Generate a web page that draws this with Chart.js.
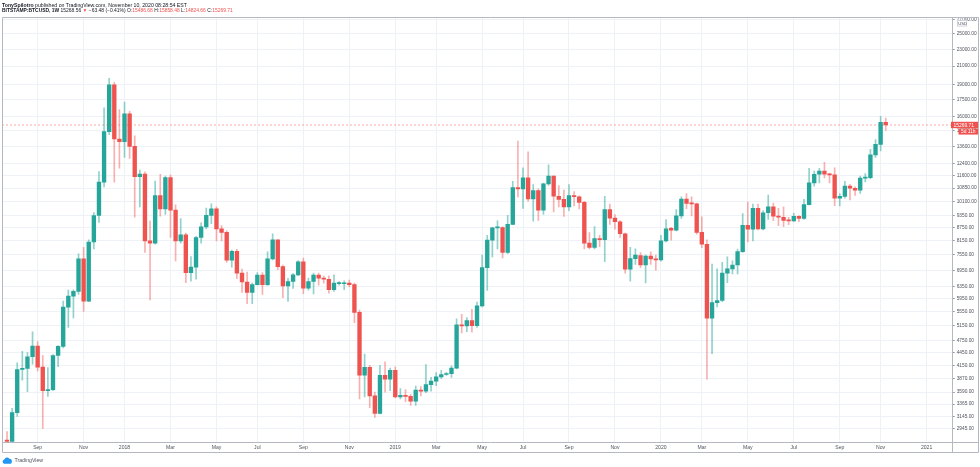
<!DOCTYPE html>
<html><head><meta charset="utf-8">
<script src="https://cdn.jsdelivr.net/npm/chart.js@4/dist/chart.umd.min.js"></script>
<style>
html,body{margin:0;padding:0;background:#fff;}
#wrap{position:relative;width:980px;height:467px;overflow:hidden;font-family:"Liberation Sans",Arial,sans-serif;}
#c{position:absolute;left:0;top:0;}
.hdr{position:absolute;left:2px;font-size:5.2px;line-height:6px;color:#131722;white-space:nowrap;}
.r{color:#ef5350;}
#foot{position:absolute;left:2px;top:456px;height:8px;font-size:5.2px;line-height:8px;color:#50535e;display:flex;align-items:center;}
#foot svg{margin-right:1.5px;}
</style></head><body>
<div id="wrap">
<canvas id="c" width="980" height="467"></canvas>
<div class="hdr" style="top:1.6px"><b>TonySpilotro</b> published on TradingView.com, November 10, 2020 08:28:54 EST</div>
<div class="hdr" style="top:8px;font-size:4.95px"><b>BITSTAMP:BTCUSD, 1W</b> 15268.56 <span class="r">▼</span> −63.48 (−0.41%) O:<span class="r">15486.68</span> H:<span class="r">15858.48</span> L:<span class="r">14824.66</span> C:<span class="r">15269.71</span></div>
<div id="foot"><svg width="11" height="7" viewBox="0 0 22 14"><path d="M5 13.5a4.2 4.2 0 0 1-.4-8.3A5.6 5.6 0 0 1 14.6 3.6a4.6 4.6 0 0 1 4.8 6.6A3 3 0 0 1 17.5 13.5Z" fill="#2196f3"/></svg><span>TradingView</span></div>
</div>
<script>
// ---- categories: weekly bar start dates ----
const weeks = [
'2017-07-24','2017-07-31','2017-08-07','2017-08-14','2017-08-21','2017-08-28','2017-09-04','2017-09-11','2017-09-18','2017-09-25','2017-10-02','2017-10-09','2017-10-16','2017-10-23','2017-10-30','2017-11-06','2017-11-13','2017-11-20','2017-11-27','2017-12-04','2017-12-11','2017-12-18','2017-12-25',
'2018-01-01','2018-01-08','2018-01-15','2018-01-22','2018-01-29','2018-02-05','2018-02-12','2018-02-19','2018-02-26','2018-03-05','2018-03-12','2018-03-19','2018-03-26','2018-04-02','2018-04-09','2018-04-16','2018-04-23','2018-04-30','2018-05-07','2018-05-14','2018-05-21','2018-05-28','2018-06-04','2018-06-11','2018-06-18','2018-06-25','2018-07-02','2018-07-09','2018-07-16','2018-07-23','2018-07-30','2018-08-06','2018-08-13','2018-08-20','2018-08-27','2018-09-03','2018-09-10','2018-09-17','2018-09-24','2018-10-01','2018-10-08','2018-10-15','2018-10-22','2018-10-29','2018-11-05','2018-11-12','2018-11-19','2018-11-26','2018-12-03','2018-12-10','2018-12-17','2018-12-24','2018-12-31',
'2019-01-07','2019-01-14','2019-01-21','2019-01-28','2019-02-04','2019-02-11','2019-02-18','2019-02-25','2019-03-04','2019-03-11','2019-03-18','2019-03-25','2019-04-01','2019-04-08','2019-04-15','2019-04-22','2019-04-29','2019-05-06','2019-05-13','2019-05-20','2019-05-27','2019-06-03','2019-06-10','2019-06-17','2019-06-24','2019-07-01','2019-07-08','2019-07-15','2019-07-22','2019-07-29','2019-08-05','2019-08-12','2019-08-19','2019-08-26','2019-09-02','2019-09-09','2019-09-16','2019-09-23','2019-09-30','2019-10-07','2019-10-14','2019-10-21','2019-10-28','2019-11-04','2019-11-11','2019-11-18','2019-11-25','2019-12-02','2019-12-09','2019-12-16','2019-12-23','2019-12-30',
'2020-01-06','2020-01-13','2020-01-20','2020-01-27','2020-02-03','2020-02-10','2020-02-17','2020-02-24','2020-03-02','2020-03-09','2020-03-16','2020-03-23','2020-03-30','2020-04-06','2020-04-13','2020-04-20','2020-04-27','2020-05-04','2020-05-11','2020-05-18','2020-05-25','2020-06-01','2020-06-08','2020-06-15','2020-06-22','2020-06-29','2020-07-06','2020-07-13','2020-07-20','2020-07-27','2020-08-03','2020-08-10','2020-08-17','2020-08-24','2020-08-31','2020-09-07','2020-09-14','2020-09-21','2020-09-28','2020-10-05','2020-10-12','2020-10-19','2020-10-26','2020-11-02','2020-11-09'];

// ---- series: open / high / low / close (USD) ----
const opens = [
2770,2745,3214,4060,4085,4350,4610,4110,3620,3640,4380,4600,5690,6040,6200,7390,5880,8100,9350,11200,14730,18970,14150,
13950,16220,13600,11540,11700,8150,8050,10420,9690,11480,9630,8150,8420,6860,7070,8300,8790,9360,9700,8700,8530,7340,7700,6840,6520,6160,6430,6770,6430,7390,8190,7090,6380,6540,6780,7270,6310,6540,6770,6660,6620,6260,6465,6460,6480,6430,5530,3935,4105,3520,3200,3935,3850,
4040,3500,3530,3510,3420,3630,3610,3740,3810,3900,3950,3970,4090,5170,5140,5290,5150,5730,7050,8180,8740,8760,7660,8910,10870,10800,11470,10230,10700,9620,11100,11570,10380,10200,9800,10420,10350,10040,8050,7870,8250,8200,9650,9220,9040,8470,6990,7400,7530,7150,7500,7390,
7350,8150,8720,8640,9330,10220,9980,9960,8530,8000,5360,5830,5900,6840,7000,7150,7690,8870,8680,9720,8700,9490,9800,9320,9260,9110,9080,9310,9200,9920,11160,11690,11900,11700,11650,10270,10370,10970,10840,10730,11450,11480,12990,13750,15486.68];
const highs = [
2900,3290,4210,4480,4450,4980,4720,4380,4100,4400,4620,5880,6240,6250,7600,7870,8200,9500,11870,16750,19664,19250,16600,
17280,16450,14400,11960,11850,9070,11260,11690,11570,11650,9900,9190,8500,7480,8350,8990,9730,9960,9800,8850,8600,7750,7780,6990,6880,6480,6860,6860,7680,8470,8200,7150,6650,6830,7320,7420,6660,6840,6840,6730,6740,6780,6540,6560,6590,6480,5600,4410,4150,3590,4150,4230,4090,
4120,3660,3640,3550,3710,3700,4170,3890,3990,4040,4000,4140,5340,5470,5380,5620,5850,7550,8400,8770,9080,8800,9360,11250,14000,12100,13200,11050,10800,11150,12310,11600,11000,10730,11050,10650,10400,10100,8520,8810,8400,10380,9950,9400,9100,8500,7870,7800,7650,7550,7680,7550,
8400,9150,8770,9650,10340,10530,10340,10000,9280,8200,7190,7000,7250,7470,7310,7790,9450,10050,9950,9950,9600,10450,10000,9720,9800,9260,9460,9350,10210,12080,11900,12080,12470,11750,12100,10530,11250,11070,10920,11570,11730,13380,14100,16000,15858.48];
const lows = [
2620,2650,3150,3830,3600,4180,4030,2950,3510,3620,4120,4560,5100,5370,6100,5560,5860,7800,9000,10920,14500,11200,12090,
12800,12740,9260,9790,7660,5920,8000,9310,9400,8300,7310,8050,6500,6550,6620,8050,8700,8950,8150,8150,7250,7070,6640,6160,5800,5800,6420,6100,6400,7350,6970,5990,5870,6300,6750,6120,6240,6110,6410,6480,6140,6200,6410,6260,6350,5230,3460,3500,3300,3130,3190,3590,3620,
3480,3460,3410,3340,3340,3520,3580,3610,3720,3860,3930,3890,4070,4950,4980,4970,5100,5700,6230,7470,7800,7430,7600,8900,10340,9720,10100,9070,9100,9400,11000,9530,9800,9300,9600,9850,9690,7800,7800,7800,7900,7280,8910,8680,8300,6840,6550,7170,7050,6490,7170,6950,
7300,8100,8180,8600,9200,9700,9330,8450,7850,3850,4420,5700,5860,6500,6810,6810,7650,8100,8150,8650,8650,9150,9090,8850,8800,8900,9050,9040,9150,9900,10960,11160,11460,11160,9860,9850,10270,10180,10420,10540,11220,11400,12800,13260,14824.66];
const closes = [
2745,3214,4060,4085,4350,4610,4110,3620,3640,4380,4600,5690,6040,6200,7390,5880,8100,9350,11200,14730,18970,14150,13950,
16220,13600,11540,11700,8150,8050,10420,9690,11480,9630,8150,8420,6860,7070,8300,8790,9360,9700,8700,8530,7340,7700,6840,6520,6160,6430,6770,6430,7390,8190,7090,6380,6540,6780,7270,6310,6540,6770,6660,6620,6260,6480,6485,6480,6430,5530,3935,4105,3520,3200,3935,3850,4040,
3500,3530,3510,3420,3630,3610,3740,3810,3900,3950,3970,4090,5170,5140,5290,5150,5730,7050,8180,8740,8760,7660,8910,10870,10800,11470,10230,10700,9620,11100,11570,10380,10200,9800,10420,10350,10040,8050,7870,8250,8200,9650,9220,9040,8470,6990,7400,7550,7150,7500,7390,7350,
8150,8700,8640,9330,10220,9980,9960,8530,8000,5360,5830,5900,6840,7000,7150,7690,8870,8680,9720,8700,9490,9800,9320,9260,9110,9080,9310,9200,9920,11160,11690,11900,11700,11650,10270,10370,10970,10840,10730,11450,11480,12990,13750,15490,15269.71];

// ---- tick labels ----
const yTicks = [2945,3145,3365,3590,3870,4150,4450,4750,5150,5550,5950,6350,6950,7550,8150,8750,9350,10100,10850,11600,12400,13600,14800,16000,17500,19000,21000,23000,25000,27000];
const xTickDates = ['2017-09-04','2017-11-06','2018-01-01','2018-03-05','2018-05-07','2018-07-02','2018-09-03','2018-11-05','2019-01-07','2019-03-04','2019-05-06','2019-07-01','2019-09-02','2019-11-04','2020-01-06','2020-03-02','2020-05-04','2020-07-06','2020-09-07','2020-11-02','2021-01-04'];
const xTickLabels = ['Sep','Nov','2018','Mar','May','Jul','Sep','Nov','2019','Mar','May','Jul','Sep','Nov','2020','Mar','May','Jul','Sep','Nov','2021'];
const lastPriceLabel = '15269.71';
const countdownLabel = '5d 11h';

// ---- helpers ----
function weekNo(s){const [y,m,d]=s.split('-').map(Number);return Math.round((Date.UTC(y,m-1,d)-Date.UTC(2018,0,1))/(7*864e5));}
const xs = weeks.map(weekNo);
const xTickIdx = xTickDates.map(weekNo);
const X_MIN = -23.98, X_MAX = 161.91, Y_MIN = 2745, Y_MAX = 27262;
const UP='#26a69a', DN='#ef5350', UPW='rgba(38,166,154,0.5)', DNW='rgba(239,83,80,0.45)';
const isUp = opens.map((o,i)=>closes[i]>=o);
const lastClose = closes[closes.length-1];

Chart.defaults.font.family = "'Liberation Sans', Arial, sans-serif";

const frame = {
  id:'frame',
  afterDraw(chart){
    const {ctx, chartArea:a, scales:{y}} = chart;
    ctx.save();
    ctx.strokeStyle='#b5b8c0'; ctx.lineWidth=1;
    ctx.beginPath();
    ctx.rect(2.5,17.5,976,435);
    ctx.moveTo(2, Math.round(a.bottom)+0.5); ctx.lineTo(979, Math.round(a.bottom)+0.5);
    ctx.moveTo(Math.round(a.right)+0.5, 17.5); ctx.lineTo(Math.round(a.right)+0.5, 452.5);
    ctx.stroke();
    // last price label
    const py = y.getPixelForValue(lastClose);
    ctx.fillStyle=DN;
    ctx.fillRect(951, py-3.2, 27, 6.4);
    ctx.fillRect(958.5, py+3.6, 19.5, 6);
    ctx.fillStyle='#fff'; ctx.font="4.9px 'Liberation Sans', Arial, sans-serif";
    ctx.textBaseline='middle'; ctx.textAlign='left';
    ctx.fillText(lastPriceLabel, 953.5, py+0.2);
    ctx.fillText(countdownLabel, 961, py+6.7);
    // currency box
    ctx.fillStyle='#fff'; ctx.fillRect(957,20.5,9.5,5.5);
    ctx.strokeStyle='#d1d4dc'; ctx.strokeRect(957.5,20.5,9,5.5);
    ctx.fillStyle='#50535e'; ctx.font="4.2px 'Liberation Sans', Arial, sans-serif";
    ctx.fillText('USD', 958.3, 23.4);
    ctx.restore();
  }
};

new Chart(document.getElementById('c'), {
  type:'bar',
  data:{datasets:[
    {label:'body', data:xs.map((x,i)=>({x, y:[opens[i], closes[i]]})), backgroundColor:isUp.map(u=>u?UP:DN), barThickness:3.7, minBarLength:1, grouped:false, order:0},
    {label:'wick', data:xs.map((x,i)=>({x, y:[lows[i], highs[i]]})), backgroundColor:isUp.map(u=>u?UPW:DNW), barThickness:1, grouped:false, order:1},
    {type:'line', label:'last', data:[{x:X_MIN,y:lastClose},{x:X_MAX,y:lastClose}], borderColor:'rgba(239,83,80,0.5)', borderWidth:1, borderDash:[2,2], pointRadius:0, order:2}
  ]},
  options:{
    responsive:false, animation:false, devicePixelRatio:1,
    layout:{padding:{left:2, top:18, right:0, bottom:15}},
    plugins:{legend:{display:false}, tooltip:{enabled:false}},
    scales:{
      x:{type:'linear', min:X_MIN, max:X_MAX, bounds:'data', offset:false,
         grid:{offset:false, color:'#eef1f6', drawTicks:false}, border:{display:false},
         ticks:{autoSkip:false, maxRotation:0, padding:2.5, color:'#50535e', font:{size:5.1},
                callback:(v)=>{const k=xTickIdx.indexOf(v);return k>=0?xTickLabels[k]:'';}},
         afterBuildTicks:(s)=>{s.ticks=xTickIdx.map(v=>({value:v}));},
         afterFit:(s)=>{s.height=10.3;}},
      y:{type:'logarithmic', position:'right', min:Y_MIN, max:Y_MAX, bounds:'data',
         grid:{color:'#eef1f6', tickLength:3, tickColor:'#9598a1'}, border:{display:false},
         ticks:{autoSkip:false, padding:2, color:'#50535e', font:{size:4.8}, callback:(v)=>Number(v).toFixed(2)},
         afterBuildTicks:(s)=>{s.ticks=yTicks.map(v=>({value:v}));},
         afterFit:(s)=>{s.width=28.3;}}
    }
  },
  plugins:[frame]
});
</script>
</body></html>
